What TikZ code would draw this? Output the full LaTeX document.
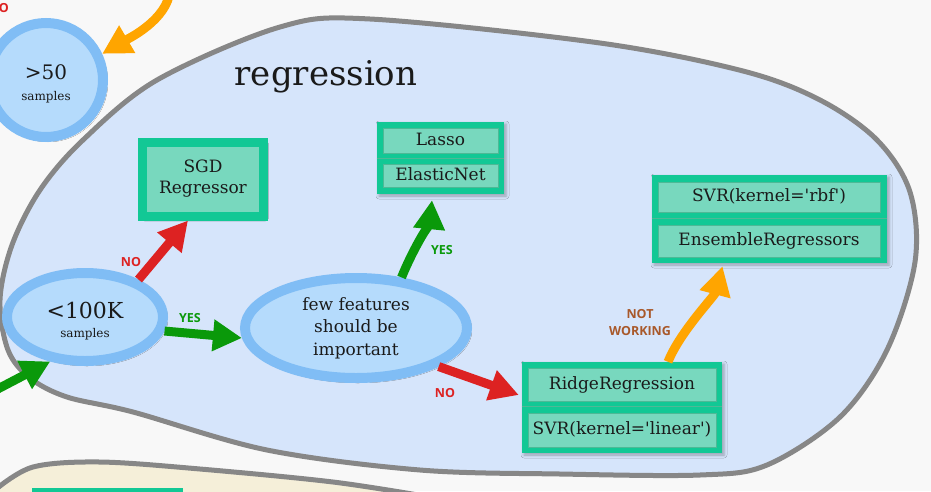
\documentclass[tikz,border=0pt]{standalone}
\usepackage{fontspec}
\setmainfont{DejaVu Serif}
\newfontfamily\labfont{Open Sans}
\usetikzlibrary{shapes.geometric,arrows.meta,shadows,shadows.blur,calc}
\definecolor{bgc}{HTML}{F8F8F8}
\definecolor{blobc}{HTML}{D6E5FB}
\definecolor{edgec}{HTML}{878787}
\definecolor{ringc}{HTML}{80BDF5}
\definecolor{ellc}{HTML}{B5DBFC}
\definecolor{tealc}{HTML}{12C895}
\definecolor{tealin}{HTML}{78D8BE}
\definecolor{tealdk}{HTML}{4DB996}
\definecolor{arrred}{HTML}{DD2222}
\definecolor{arrgreen}{HTML}{0A990A}
\definecolor{arrorange}{HTML}{FFA500}
\definecolor{labbrown}{HTML}{A8582A}
\definecolor{beigec}{HTML}{F5EFD9}
\definecolor{txtc}{HTML}{1A1A1A}
\begin{document}
\begin{tikzpicture}[x=1pt,y=-1pt,
  softshadow/.style={blur shadow={shadow xshift=2pt,shadow yshift=-2pt,shadow blur radius=3pt,shadow opacity=30}},
  ringnode/.style={draw=ringc,line width=10pt,fill=ellc,inner sep=0pt,text=txtc,align=center,softshadow},
  tealbox/.style={fill=tealc,inner sep=0pt,softshadow},
  tealcell/.style={fill=tealin,draw=tealdk,line width=1pt,inner sep=0pt,text=txtc,
    font=\fontsize{17}{21}\selectfont,text height=12.5pt,text depth=3.5pt},
  bigarrow/.style={line width=9pt,-{Triangle[length=29pt,width=30pt]}},
  lbl/.style={font=\labfont\bfseries\fontsize{12.5}{17}\selectfont,inner sep=2pt}]
\useasboundingbox (0,0) rectangle (931,491);
\fill[bgc] (0,0) rectangle (931,491);
% regression region
\draw[edgec,line width=5pt,fill=blobc] plot[smooth cycle,tension=0.55] coordinates {
 (0,300) (12,245) (40,190) (83,140) (157,80) (280,27) (370,19) (600,43) (743,71)
 (820,100) (877,140) (910,192) (915,262) (887,350) (840,417) (767,465) (700,475)
 (560,474) (420,470) (267,450) (133,412) (67,397) (30,378) (8,350)};
% lower region
\fill[beigec] plot[smooth,tension=0.55] coordinates {(-5,490) (33,467) (100,462) (200,469) (333,482) (430,497)}
  -- (430,505) -- (-5,505) -- cycle;
\draw[edgec,line width=5pt] plot[smooth,tension=0.55] coordinates {(-5,490) (33,467) (100,462) (200,469) (333,482) (430,497)};
\fill[tealc] (32,488) rectangle (183,500);
% title
\node[font=\fontsize{34}{36}\selectfont,text=txtc] (title) at (326,77) {regression};
% decision nodes
\node[ringnode,circle,minimum size=114pt,font=\fontsize{12}{21}\selectfont] (fifty) at (46,80)
  {\rule{0pt}{23pt}{\fontsize{20}{22}\selectfont >50}\\samples};
\node[ringnode,ellipse,minimum width=156pt,minimum height=88pt,font=\fontsize{12}{19}\selectfont] (hundred) at (85,317)
  {\rule{0pt}{25pt}{\fontsize{22}{24}\selectfont <100K}\\samples};
\node[ringnode,ellipse,minimum width=222pt,minimum height=100pt,font=\fontsize{17}{22.5}\selectfont] (few) at (356,328)
  {few features\\should be\\important};
% estimator boxes
\node[draw=tealc,line width=9pt,fill=tealin,minimum width=121pt,minimum height=74pt,align=center,
  text=txtc,font=\fontsize{17}{21}\selectfont,softshadow] (sgd) at (203,179) {SGD\\Regressor};
\node[tealbox,minimum width=127pt,minimum height=72pt] (lassobox) at (440.5,158) {};
\draw[tealdk,line width=1pt] (lassobox.west) -- (lassobox.east);
\node[tealcell,minimum width=115pt,minimum height=25pt] (lasso) at (440.5,140.5) {Lasso};
\node[tealcell,minimum width=115pt,minimum height=23pt] (enet) at (440.5,175.5) {ElasticNet};
\node[tealbox,minimum width=235pt,minimum height=88pt] (svrbox) at (769.5,219) {};
\draw[tealdk,line width=1pt] ($(svrbox.west)+(0,-1)$) -- ($(svrbox.east)+(0,-1)$);
\node[tealcell,minimum width=222pt,minimum height=30pt] (svrrbf) at (769,197) {SVR(kernel=\textquotesingle rbf\textquotesingle)};
\node[tealcell,minimum width=222pt,minimum height=32pt] (ens) at (769,241) {EnsembleRegressors};
\node[tealbox,minimum width=200pt,minimum height=91pt] (ridgebox) at (622,407.5) {};
\draw[tealdk,line width=1pt] ($(ridgebox.west)+(0,-1.5)$) -- ($(ridgebox.east)+(0,-1.5)$);
\node[tealcell,minimum width=188pt,minimum height=33pt] (ridge) at (622,384.5) {RidgeRegression};
\node[tealcell,minimum width=188pt,minimum height=34pt] (svrlin) at (622,430) {SVR(kernel=\textquotesingle linear\textquotesingle)};
% free ends
\coordinate (otop) at (170,-10);
\coordinate (gin) at (-8,392);
% connectors
\draw[bigarrow,arrorange] (otop) .. controls +(-2,30) and +(24,-14) .. (fifty.25);
\draw[bigarrow,arrgreen] (gin) -- (hundred.232);
\draw[bigarrow,arrred] (hundred.35) -- ($(sgd.south)+(-15,0)$);
\draw[bigarrow,arrgreen] (hundred.-10) -- (few.185);
\draw[bigarrow,arrgreen] (few.48) .. controls +(10,-25) and +(-2,20) .. ($(lassobox.south)+(-8.5,6)$);
\draw[bigarrow,arrred] (few.-25) -- ($(ridgebox.west)+(-3,-12.5)$);
\draw[bigarrow,arrorange] ($(ridgebox.north)+(46,0)$) .. controls +(12,-30) and +(-8,30) .. ($(svrbox.south)+(-47,3)$);
% labels
\node[lbl,text=arrred,anchor=east] (no0) at (11,8) {NO};
\node[lbl,text=arrred] (no1) at (131,262) {NO};
\node[lbl,text=arrgreen] (yes1) at (190,318) {YES};
\node[lbl,text=arrgreen] (yes2) at (442,250) {YES};
\node[lbl,text=arrred] (no2) at (445,393) {NO};
\node[lbl,text=labbrown,align=center] (notw) at (640,323) {NOT\\WORKING};
\end{tikzpicture}
\end{document}
